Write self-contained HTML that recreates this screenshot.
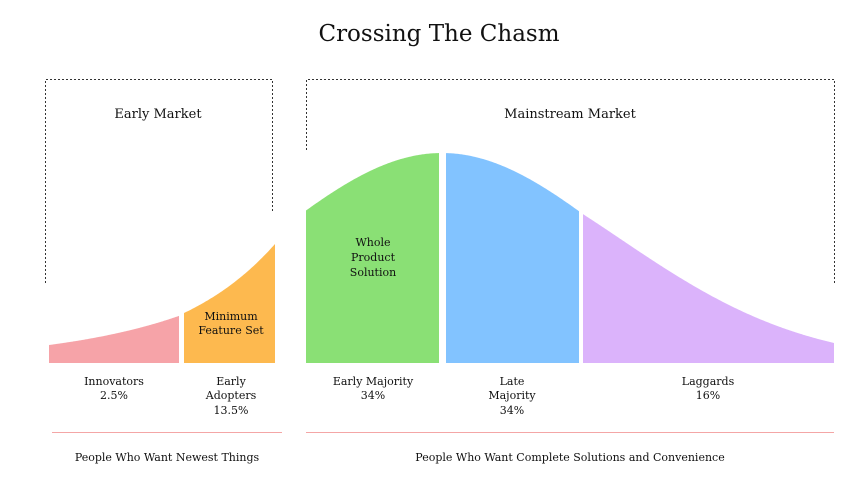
<!DOCTYPE html>
<html><head><meta charset="utf-8"><style>
body{margin:0;background:#fff}
svg text{font-family:"DejaVu Serif","Liberation Serif",serif;font-size:11px;fill:#111;text-anchor:middle}
</style></head><body>
<svg id="s" width="866" height="486" xmlns="http://www.w3.org/2000/svg">
<text x="439" y="41" style="font-size:23px">Crossing The Chasm</text>
<g fill="none" stroke="#333" stroke-dasharray="2,2" stroke-width="1">
<path d="M45.5 283V79.5H272.5V213"/>
<path d="M306.5 150V79.5H834.5V283"/>
</g>
<g id="areas"></g>
<text x="158" y="118" style="font-size:13px">Early Market</text>
<text x="570" y="118" style="font-size:13px">Mainstream Market</text>
<text x="231" y="320">Minimum</text><text x="231" y="334">Feature Set</text>
<text x="373" y="246">Whole</text><text x="373" y="261">Product</text><text x="373" y="276">Solution</text>
<text x="114" y="385">Innovators</text><text x="114" y="399">2.5%</text>
<text x="231" y="385">Early</text><text x="231" y="399">Adopters</text><text x="231" y="414">13.5%</text>
<text x="373" y="385">Early Majority</text><text x="373" y="399">34%</text>
<text x="512" y="385">Late</text><text x="512" y="399">Majority</text><text x="512" y="414">34%</text>
<text x="708" y="385">Laggards</text><text x="708" y="399">16%</text>
<line x1="52" y1="432.5" x2="282" y2="432.5" stroke="#f4a6a6"/>
<line x1="306" y1="432.5" x2="834" y2="432.5" stroke="#f4a6a6"/>
<text x="167" y="461">People Who Want Newest Things</text>
<text x="570" y="461">People Who Want Complete Solutions and Convenience</text>
</svg>
<script>
function build(x0,x1,f,col){
 let d="M"+x0+" 363";
 for(let x=x0;x<=x1+0.01;x+=1){d+=" L"+x+" "+(363-f(x)).toFixed(1);}
 d+=" L"+x1+" 363Z";
 return '<path d="'+d+'" fill="'+col+'"/>';
}
function g(peak,sig,A){return x=>{const z=(x-peak)/sig;return A*Math.exp(-z*z/2);};}
document.getElementById("areas").innerHTML=
 build(49,179,x=>18*Math.exp(0.0074*(x-49)),"#f6a3a8")+
 build(184,275,x=>50*Math.exp(0.00953*(x-184)),"#fdb94f")+
 build(306,439,g(442,170,210),"#8ae075")+build(446,579,g(442,170,210),"#82c3ff")+build(583,834,g(435,185,205),"#dbb3fb");
</script>
</body></html>
